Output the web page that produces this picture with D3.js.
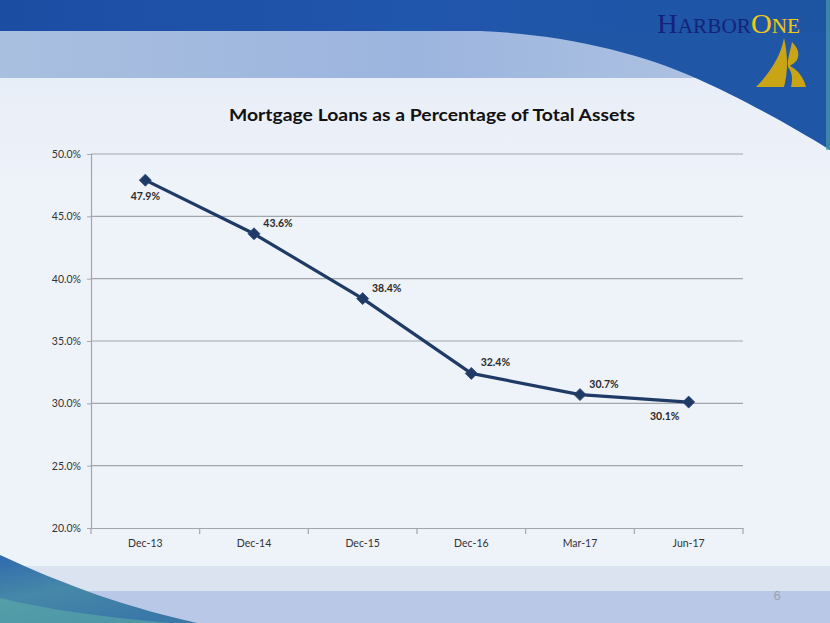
<!DOCTYPE html>
<html>
<head>
<meta charset="utf-8">
<script src="https://cdn.jsdelivr.net/npm/d3@7/dist/d3.min.js"></script>
<style>
html,body{margin:0;padding:0;background:#fff;}
svg{display:block;}
</style>
</head>
<body>
<svg id="chart" width="830" height="623"></svg>
<script>
const categories = ["Dec-13","Dec-14","Dec-15","Dec-16","Mar-17","Jun-17"];
const values = [47.9, 43.6, 38.4, 32.4, 30.7, 30.1];
const valueLabels = ["47.9%","43.6%","38.4%","32.4%","30.7%","30.1%"];
const labelPlacement = ["below","above-right","above-right","above-right","above-right","below-left"];
const yTicks = [20, 25, 30, 35, 40, 45, 50];
const title = "Mortgage Loans as a Percentage of Total Assets";

const svg = d3.select("#chart");
const W = 830, H = 623;
const defs = svg.append("defs");
const FONT = "Lato, 'Open Sans', sans-serif";

// Background gradients
const gTop = defs.append("linearGradient").attr("id","gTop").attr("x1",0).attr("x2",1).attr("y1",0).attr("y2",0);
gTop.append("stop").attr("offset","0").attr("stop-color","#1b4da3");
gTop.append("stop").attr("offset","0.5").attr("stop-color","#2156ad");
gTop.append("stop").attr("offset","1").attr("stop-color","#1d55a3");
const gBand = defs.append("linearGradient").attr("id","gBand").attr("x1",0).attr("x2",1).attr("y1",0).attr("y2",0);
gBand.append("stop").attr("offset","0").attr("stop-color","#a9bfe0");
gBand.append("stop").attr("offset","0.5").attr("stop-color","#9cb5de");
gBand.append("stop").attr("offset","1").attr("stop-color","#b3c6e4");
const gBody = defs.append("linearGradient").attr("id","gBody").attr("x1",0).attr("x2",0).attr("y1",0).attr("y2",1);
gBody.append("stop").attr("offset","0").attr("stop-color","#e4ebf6");
gBody.append("stop").attr("offset","0.3").attr("stop-color","#eef2f9");
gBody.append("stop").attr("offset","1").attr("stop-color","#eef2f9");
const gSwoosh = defs.append("linearGradient").attr("id","gSwoosh").attr("x1",0).attr("x2",0.6).attr("y1",0).attr("y2",1);
gSwoosh.append("stop").attr("offset","0").attr("stop-color","#2f6aae");
gSwoosh.append("stop").attr("offset","0.5").attr("stop-color","#4688a8");
gSwoosh.append("stop").attr("offset","1").attr("stop-color","#3a78a8");

// body
svg.append("rect").attr("x",0).attr("y",0).attr("width",W).attr("height",H).attr("fill","url(#gBody)");
// top dark
svg.append("rect").attr("x",0).attr("y",0).attr("width",W).attr("height",31).attr("fill","url(#gTop)");
// light band
svg.append("rect").attr("x",0).attr("y",31).attr("width",W).attr("height",47).attr("fill","url(#gBand)");
// right dark curve region
svg.append("path")
  .attr("d","M480,31 C560,34 640,52 700,80 C740,98 790,125 830,150 L830,31 Z")
  .attr("fill","#1f57a6");
svg.append("rect").attr("x",826).attr("y",0).attr("width",4).attr("height",150).attr("fill","#4a9aa8").attr("opacity",0.7);

// bottom bands
svg.append("rect").attr("x",0).attr("y",566).attr("width",W).attr("height",25).attr("fill","#dbe3f0");
svg.append("rect").attr("x",0).attr("y",591).attr("width",W).attr("height",32).attr("fill","#b8c8e6");
svg.append("path")
  .attr("d","M0,555 C50,578 112,604 197,623 L0,623 Z")
  .attr("fill","url(#gSwoosh)");
svg.append("path")
  .attr("d","M0,598 C40,608 100,617 170,623 L0,623 Z")
  .attr("fill","#5fb0a8").attr("opacity",0.55);
svg.append("text").attr("x",777).attr("y",600).attr("text-anchor","middle")
  .attr("font-family","Liberation Sans, Arial, sans-serif").attr("font-size",13).attr("fill","#9aa4b4").text("6");

// Logo
const logo = svg.append("g");
const lt = logo.append("text").attr("x",657).attr("y",33)
  .attr("font-family","Liberation Serif, 'Times New Roman', serif").attr("fill","#14237a")
  .attr("textLength",143).attr("lengthAdjust","spacingAndGlyphs");
lt.append("tspan").attr("font-size",27).text("H");
lt.append("tspan").attr("font-size",20).text("ARBOR");
lt.append("tspan").attr("font-size",27).attr("fill","#f0c814").text("O");
lt.append("tspan").attr("font-size",20).attr("fill","#f0c814").text("NE");
logo.append("path").attr("d","M784,38 C788,55 788,72 784,87 L756,87 C771,72 781,55 784,38 Z").attr("fill","#c9a516");
logo.append("path").attr("d","M792,42 C798,48 800,54 797,60 C795,63 791,65 790,66 C798,70 804,78 806,87 L791,87 C793,78 792,72 788,67 C787,60 790,52 792,42 Z").attr("fill","#c9a516");

// Title
svg.append("text").attr("x",432).attr("y",121).attr("text-anchor","middle")
  .attr("font-family",FONT).attr("font-weight","bold")
  .attr("font-size",17.5).attr("fill","#111").attr("textLength",406).attr("lengthAdjust","spacingAndGlyphs")
  .text(title);

// Scales
const pLeft = 91, pRight = 743, pTop = 154, pBottom = 528;
const x = d3.scaleBand().domain(categories).range([pLeft, pRight]);
const y = d3.scaleLinear().domain([20, 50]).range([pBottom, pTop]);

// gridlines
svg.append("g").selectAll("line").data(yTicks.filter(t => t > 20)).join("line")
  .attr("x1",pLeft).attr("x2",pRight).attr("y1",d=>y(d)).attr("y2",d=>y(d))
  .attr("stroke","#a3a6ab").attr("stroke-width",1.2);

// y axis
const yAxis = svg.append("g").attr("transform",`translate(${pLeft},0)`)
  .call(d3.axisLeft(y).tickValues(yTicks).tickSize(4).tickFormat(d => d.toFixed(1) + "%"));
yAxis.select(".domain").attr("stroke","#a3a6ab").attr("stroke-width",1.2);
yAxis.selectAll(".tick line").attr("stroke","#a3a6ab");
yAxis.selectAll("text").attr("font-family",FONT).attr("font-size",10.5).attr("fill","#333").attr("dx","-3");

// x axis
const xAxis = svg.append("g").attr("transform",`translate(0,${pBottom})`)
  .call(d3.axisBottom(x).tickSize(0).tickPadding(12));
xAxis.select(".domain").attr("stroke","#a3a6ab").attr("stroke-width",1.2);
xAxis.selectAll("text").attr("font-family",FONT).attr("font-size",10.5).attr("fill","#333");
const boundaries = categories.map(c => x(c)).concat([x(categories[categories.length-1]) + x.bandwidth()]);
xAxis.selectAll(".bt").data(boundaries).join("line").attr("class","bt")
  .attr("x1",d=>d).attr("x2",d=>d).attr("y1",0).attr("y2",6).attr("stroke","#a3a6ab").attr("stroke-width",1.2);

// line
const pts = categories.map((c,i) => [x(c) + x.bandwidth()/2, y(values[i])]);
svg.append("path").datum(pts).attr("d", d3.line())
  .attr("fill","none").attr("stroke","#1f3a64").attr("stroke-width",3.2).attr("stroke-linejoin","round");
svg.append("g").selectAll("path").data(pts).join("path")
  .attr("d", d3.symbol(d3.symbolSquare, 72)())
  .attr("transform", d => `translate(${d[0]},${d[1]}) rotate(45)`)
  .attr("fill","#1f3a64").attr("stroke","#2b4a7a").attr("stroke-width",0.8);

// labels
const lblX = {"below": 0, "above-right": 24, "below-left": -24};
const lblY = {"below": 20, "above-right": -7, "below-left": 18};
svg.append("g").selectAll("text").data(pts).join("text")
  .attr("x",(d,i) => d[0] + lblX[labelPlacement[i]])
  .attr("y",(d,i) => d[1] + lblY[labelPlacement[i]])
  .attr("text-anchor","middle")
  .attr("font-family",FONT).attr("font-weight","bold")
  .attr("font-size",10.5).attr("fill","#2a2a2a")
  .text((d,i) => valueLabels[i]);
</script>
</body>
</html>
